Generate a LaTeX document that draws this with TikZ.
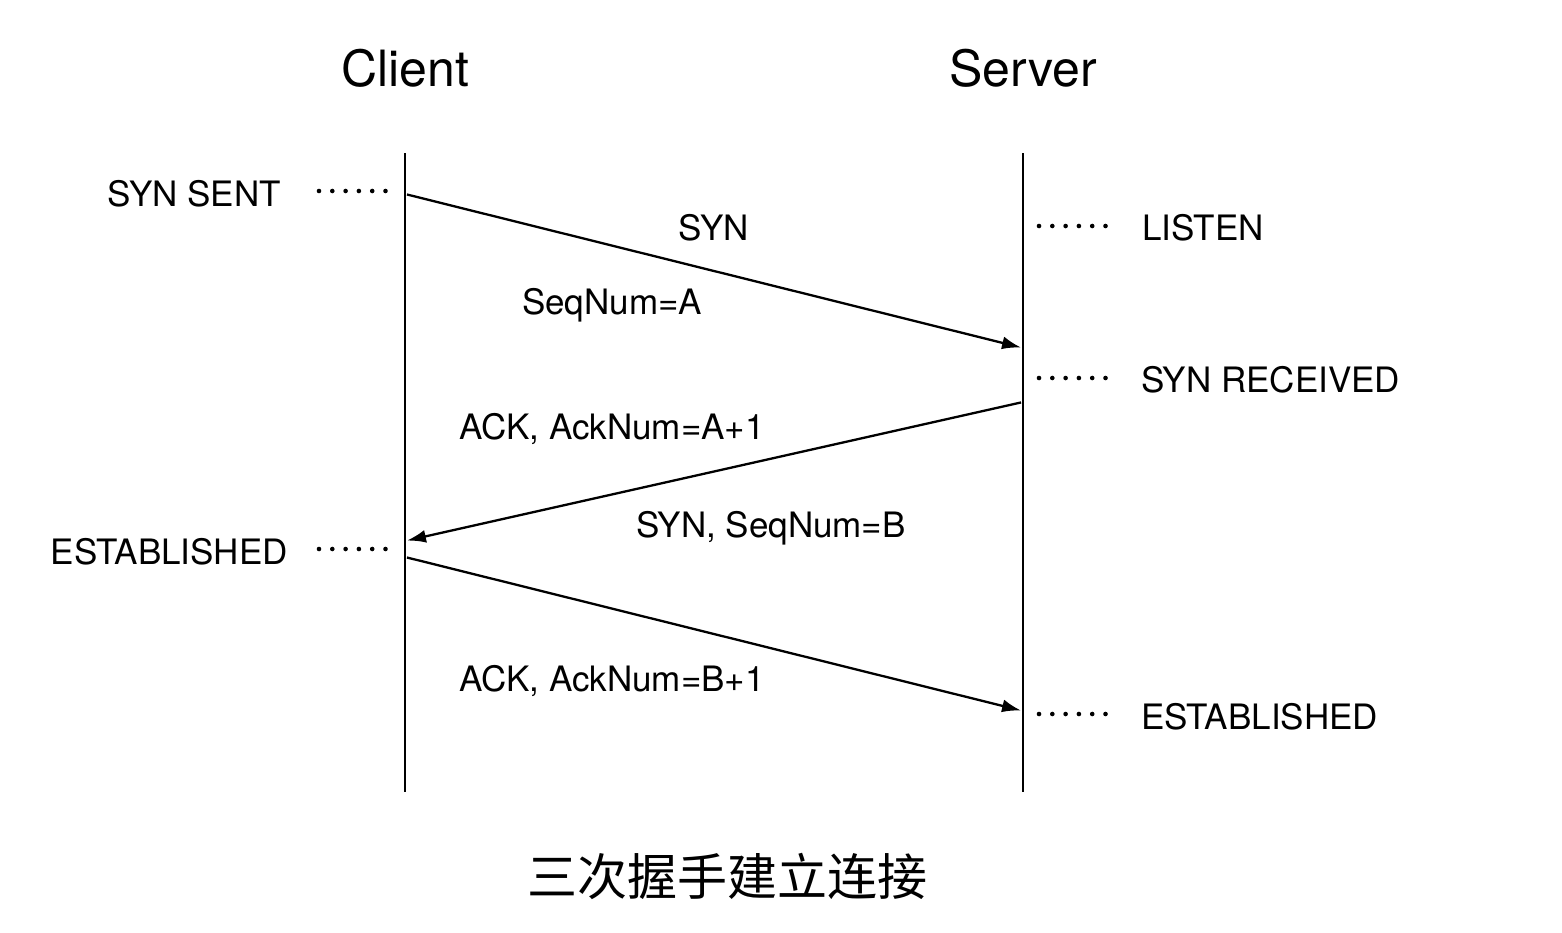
\documentclass[tikz,border=0pt]{standalone}
\usepackage{fontspec}
\setmainfont{TeX Gyre Heros}
\newfontfamily\cjk{Noto Sans CJK SC}
\usetikzlibrary{arrows.meta,calc}

\tikzset{
  lifeline/.style={line width=2.6pt},
  msg/.style={line width=2.3pt,-{Latex[length=19pt,width=13pt]},shorten >=2pt,shorten <=2pt},
  leader/.style={line width=4.6pt,line cap=round,dash pattern=on 0pt off 13.3pt},
  party/.style={inner sep=0pt,anchor=base,font=\fontsize{50}{60}\selectfont},
  lbl/.style={inner sep=0pt,font=\fontsize{35}{42}\selectfont},
}

\begin{document}
\begin{tikzpicture}[x=1pt,y=-1pt]
  \useasboundingbox (0,0) rectangle (1562,932);

  \node[party] (client) at (405,86) {Client};
  \node[party] (server) at (1023,86) {Server};

  \coordinate (ctop) at (405,153);
  \coordinate (cbot) at (405,792);
  \coordinate (stop) at (1023,153);
  \coordinate (sbot) at (1023,792);
  \draw[lifeline] (ctop) -- (cbot);
  \draw[lifeline] (stop) -- (sbot);

  \coordinate (c1) at (405,194);
  \coordinate (s1) at (1023,348);
  \coordinate (s2) at (1023,402);
  \coordinate (c2) at (405,541);
  \coordinate (c3) at (405,557);
  \coordinate (s3) at (1023,711);
  \draw[msg] (c1) -- (s1);
  \draw[msg] (s2) -- (c2);
  \draw[msg] (c3) -- (s3);

  \node[lbl,anchor=base] (syn) at (714,240) {SYN};
  \node[lbl,anchor=base] (seqa) at (612,314) {SeqNum=A};
  \node[lbl,anchor=base] (acka) at (612,439) {ACK, AckNum=A+1};
  \node[lbl,anchor=base] (seqb) at (771,537) {SYN, SeqNum=B};
  \node[lbl,anchor=base] (ackb) at (612,691) {ACK, AckNum=B+1};

  \node[lbl,anchor=base east] (synsent) at (281,206) {SYN SENT};
  \node[lbl,anchor=base east] (estc) at (288,564) {ESTABLISHED};
  \node[lbl,anchor=base west] (listen) at (1142,240) {LISTEN};
  \node[lbl,anchor=base west] (synrcvd) at (1141,392) {SYN RECEIVED};
  \node[lbl,anchor=base west] (ests) at (1141,729) {ESTABLISHED};

  \draw[leader] (319,191) -- (386,191);
  \draw[leader] (319,549) -- (386,549);
  \draw[leader] (1039,226) -- (1106,226);
  \draw[leader] (1039,378) -- (1106,378);
  \draw[leader] (1039,714) -- (1106,714);

  \node[inner sep=0pt,font=\cjk\fontsize{50}{58}\selectfont] (title) at (727,876) {三次握手建立连接};
\end{tikzpicture}
\end{document}
